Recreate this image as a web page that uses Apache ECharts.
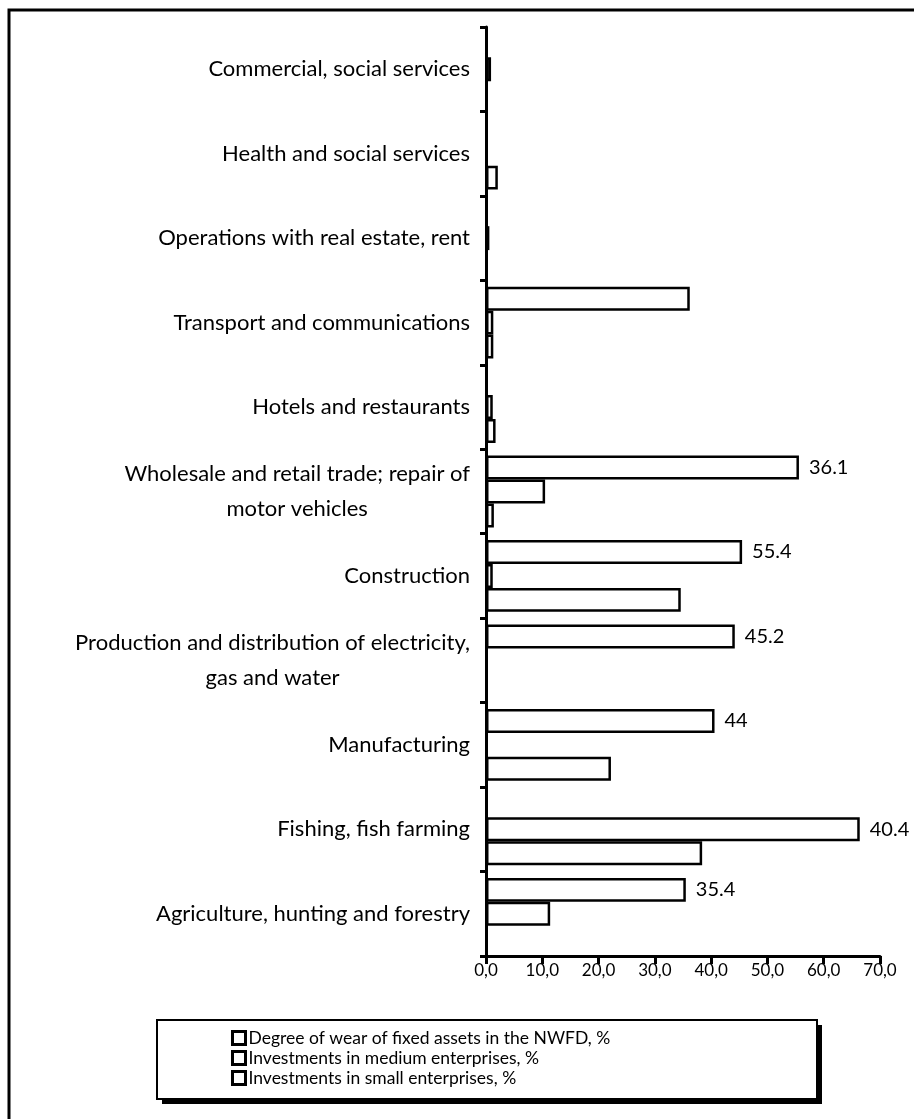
<!DOCTYPE html>
<html>
<head>
<meta charset="utf-8">
<script src="https://cdn.jsdelivr.net/npm/echarts@6/dist/echarts.min.js"></script>
<style>
html,body{margin:0;padding:0;background:#fff;}
#chart{width:914px;height:1119px;}
</style>
</head>
<body>
<div id="chart"></div>
<script>
// Categories, bottom to top (ECharts category y-axis order)
const categories = [
  "Agriculture, hunting and forestry",
  "Fishing, fish farming",
  "Manufacturing",
  "Production and distribution of electricity,\ngas and water",
  "Construction",
  "Wholesale and retail trade; repair of\nmotor vehicles",
  "Hotels and restaurants",
  "Transport and communications",
  "Operations with real estate, rent",
  "Health and social services",
  "Commercial, social services"
];
const seriesNames = [
  "Degree of wear of fixed assets in the NWFD, %",
  "Investments in medium enterprises, %",
  "Investments in small enterprises, %"
];
// Values (null = no bar)
const wearValues   = [35.5, null, 40.6, 44.2, 45.5, 55.6, null, 36.2, null, null, null];
const mediumValues = [11.4, 66.4, null, 0.2, 1.2, 10.5, 1.2, 1.3, 0.6, null, 0.9];
const smallValues  = [null, 38.4, 22.2, null, 34.6, 1.4, 1.7, 1.3, null, 2.1, null];
// Printed data labels, as they appear in the picture
const wearLabels   = ["35.4", "", "44", "45.2", "55.4", "36.1", "", "", "", "", ""];
const mediumLabels = ["", "40.4", "", "", "", "", "", "", "", "", ""];
// X tick labels
const xTickLabels = ["0,0", "10,0", "20,0", "30,0", "40,0", "50,0", "60,0", "70,0"];

const FONT = "Lato";
const chart = echarts.init(document.getElementById('chart'), null, {renderer: 'canvas'});

function barSeries(name, data, labels) {
  return {
    name: name,
    type: 'bar',
    data: data,
    barGap: '0%',
    barCategoryGap: '15%',
    itemStyle: {color: '#ffffff', borderColor: '#000000', borderWidth: 2.5},
    label: {
      show: !!labels,
      position: 'right',
      distance: 10,
      color: '#000',
      fontFamily: FONT,
      fontSize: 20,
      formatter: p => labels ? labels[p.dataIndex] : ''
    },
    emphasis: {disabled: true},
    animation: false
  };
}

chart.setOption({
  animation: false,
  backgroundColor: '#ffffff',
  grid: {left: 486, right: 34, top: 27, bottom: 163, containLabel: false},
  xAxis: {
    type: 'value', min: 0, max: 70, interval: 10,
    axisLine: {show: true, lineStyle: {color: '#000', width: 3}},
    axisTick: {show: true, length: 8, lineStyle: {color: '#000', width: 3}},
    splitLine: {show: false},
    axisLabel: {
      color: '#000', fontFamily: FONT, fontSize: 17, margin: 6,
      formatter: v => xTickLabels[Math.round(v / 10)]
    }
  },
  yAxis: {
    type: 'category', data: categories,
    axisLine: {show: true, lineStyle: {color: '#000', width: 3}},
    axisTick: {show: true, length: 6, lineStyle: {color: '#000', width: 3}},
    axisLabel: {
      interval: 0, margin: 16, color: '#000',
      formatter: v => '{c|' + v + '}',
      rich: {c: {align: 'center', fontFamily: FONT, fontSize: 22, lineHeight: 35, color: '#000'}}
    }
  },
  legend: {
    orient: 'vertical', left: 226, top: 1023, z: 10,
    data: seriesNames,
    itemWidth: 13, itemHeight: 13, itemGap: 0,
    icon: 'rect',
    itemStyle: {color: '#fff', borderColor: '#000', borderWidth: 3},
    textStyle: {color: '#000', fontFamily: FONT, fontSize: 17.5, lineHeight: 20, padding: [0, 0, 0, -2]},
    selectedMode: false
  },
  graphic: [
    {type: 'rect', z: 0, silent: true,
     shape: {x: 9, y: 10, width: 1000, height: 1200},
     style: {fill: 'none', stroke: '#000', lineWidth: 3}},
    {type: 'rect', z: 1, silent: true,
     shape: {x: 162, y: 1025, width: 660, height: 79},
     style: {fill: '#000', stroke: 'none'}},
    {type: 'rect', z: 2, silent: true,
     shape: {x: 157, y: 1020, width: 660, height: 79},
     style: {fill: '#fff', stroke: '#000', lineWidth: 2}}
  ],
  series: [
    barSeries(seriesNames[0], wearValues, wearLabels),
    barSeries(seriesNames[1], mediumValues, mediumLabels),
    barSeries(seriesNames[2], smallValues, null)
  ]
});
</script>
</body>
</html>
